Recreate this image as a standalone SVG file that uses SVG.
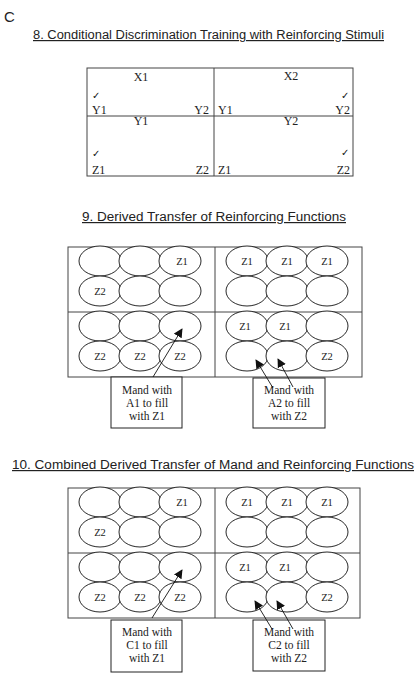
<svg xmlns="http://www.w3.org/2000/svg" width="420" height="673" viewBox="0 0 420 673">
<defs>
<style>
.title{font-family:"Liberation Sans",Arial,sans-serif;font-size:12px;fill:#222;text-decoration:underline}
.lbl{font-family:"Liberation Serif","Times New Roman",serif;font-size:12px;fill:#222}
.chk{font-family:"DejaVu Sans",sans-serif;font-size:10px;fill:#111}
.z{font-family:"Liberation Serif","Times New Roman",serif;font-size:10.5px;fill:#222;text-anchor:middle}
.mand{font-family:"Liberation Serif","Times New Roman",serif;font-size:11.5px;fill:#222;text-anchor:middle}
.grid{fill:none;stroke:#444;stroke-width:1}
.ov{fill:#fff;stroke:#111;stroke-width:0.9}
.box{fill:#fff;stroke:#222;stroke-width:1}
.arr{stroke:#111;stroke-width:0.9;fill:none;marker-end:url(#ah)}
</style>
<marker id="ah" viewBox="0 0 10 10" refX="9" refY="5" markerWidth="9" markerHeight="9" markerUnits="userSpaceOnUse" orient="auto">
<path d="M0,0 L10,5 L0,10 z" fill="#111"/>
</marker>
</defs>
<rect width="420" height="673" fill="#fff"/>
<text x="4" y="22" font-family="Liberation Sans,Arial,sans-serif" font-size="15" fill="#222">C</text>

<!-- Section 8 -->
<text class="title" x="33" y="39" textLength="351" lengthAdjust="spacingAndGlyphs">8. Conditional Discrimination Training with Reinforcing Stimuli</text>
<g id="table8">
<rect class="grid" x="87" y="68" width="266" height="108"/>
<line class="grid" x1="214" y1="68" x2="214" y2="176"/>
<line class="grid" x1="87" y1="116" x2="353" y2="116"/>
</g>
<g id="cell8-x1">
<text class="lbl" x="141" y="81" text-anchor="middle">X1</text>
<text class="chk" x="92" y="99">✓</text>
<text class="lbl" x="92" y="114">Y1</text>
<text class="lbl" x="209" y="114" text-anchor="end">Y2</text>
</g>
<g id="cell8-x2">
<text class="lbl" x="291" y="80" text-anchor="middle">X2</text>
<text class="chk" x="341" y="99">✓</text>
<text class="lbl" x="218" y="114">Y1</text>
<text class="lbl" x="350" y="114" text-anchor="end">Y2</text>
</g>
<g id="cell8-y1">
<text class="lbl" x="141" y="125" text-anchor="middle">Y1</text>
<text class="chk" x="92" y="157">✓</text>
<text class="lbl" x="92" y="174">Z1</text>
<text class="lbl" x="209" y="174" text-anchor="end">Z2</text>
</g>
<g id="cell8-y2">
<text class="lbl" x="291" y="125" text-anchor="middle">Y2</text>
<text class="chk" x="341" y="156">✓</text>
<text class="lbl" x="218" y="174">Z1</text>
<text class="lbl" x="350" y="174" text-anchor="end">Z2</text>
</g>

<!-- Section 9 -->
<text class="title" x="82" y="221" textLength="264" lengthAdjust="spacingAndGlyphs">9. Derived Transfer of Reinforcing Functions</text>
<g id="table9">
<rect class="grid" x="68" y="247" width="294" height="130"/>
<line class="grid" x1="215" y1="247" x2="215" y2="377"/>
<line class="grid" x1="68" y1="312" x2="362" y2="312"/>
</g>
<g id="cell9-tl">
<ellipse class="ov" cx="100" cy="261" rx="21" ry="15"/><ellipse class="ov" cx="140" cy="261" rx="21" ry="15"/><ellipse class="ov" cx="180" cy="261" rx="21" ry="15"/>
<ellipse class="ov" cx="100" cy="291" rx="21" ry="15"/><ellipse class="ov" cx="140" cy="291" rx="21" ry="15"/><ellipse class="ov" cx="180" cy="291" rx="21" ry="15"/>
<text class="z" x="182" y="265">Z1</text><text class="z" x="100" y="295">Z2</text>
</g>
<g id="cell9-tr">
<ellipse class="ov" cx="247" cy="261" rx="21" ry="15"/><ellipse class="ov" cx="287" cy="261" rx="21" ry="15"/><ellipse class="ov" cx="327" cy="261" rx="21" ry="15"/>
<ellipse class="ov" cx="247" cy="291" rx="21" ry="15"/><ellipse class="ov" cx="287" cy="291" rx="21" ry="15"/><ellipse class="ov" cx="327" cy="291" rx="21" ry="15"/>
<text class="z" x="247" y="265">Z1</text><text class="z" x="287" y="265">Z1</text><text class="z" x="327" y="265">Z1</text>
</g>
<g id="cell9-bl">
<ellipse class="ov" cx="100" cy="326" rx="21" ry="15"/><ellipse class="ov" cx="140" cy="326" rx="21" ry="15"/><ellipse class="ov" cx="180" cy="326" rx="21" ry="15"/>
<ellipse class="ov" cx="100" cy="356" rx="21" ry="15"/><ellipse class="ov" cx="140" cy="356" rx="21" ry="15"/><ellipse class="ov" cx="180" cy="356" rx="21" ry="15"/>
<text class="z" x="100" y="360">Z2</text><text class="z" x="140" y="360">Z2</text><text class="z" x="180" y="360">Z2</text>
</g>
<g id="cell9-br">
<ellipse class="ov" cx="247" cy="326" rx="21" ry="15"/><ellipse class="ov" cx="287" cy="326" rx="21" ry="15"/><ellipse class="ov" cx="327" cy="326" rx="21" ry="15"/>
<ellipse class="ov" cx="247" cy="356" rx="21" ry="15"/><ellipse class="ov" cx="287" cy="356" rx="21" ry="15"/><ellipse class="ov" cx="327" cy="356" rx="21" ry="15"/>
<text class="z" x="245" y="330">Z1</text><text class="z" x="285" y="330">Z1</text><text class="z" x="327" y="360">Z2</text>
</g>
<g id="mand9-a1">
<rect class="box" x="111" y="377" width="71" height="51"/>
<text class="mand" x="147" y="394">Mand with</text>
<text class="mand" x="147" y="407">A1 to fill</text>
<text class="mand" x="147" y="420">with Z1</text>
</g>
<g id="mand9-a2">
<rect class="box" x="253" y="378" width="72" height="50"/>
<text class="mand" x="289" y="394">Mand with</text>
<text class="mand" x="289" y="407">A2 to fill</text>
<text class="mand" x="289" y="420">with Z2</text>
</g>

<!-- Section 10 -->
<text class="title" x="12" y="469" textLength="402" lengthAdjust="spacingAndGlyphs">10. Combined Derived Transfer of Mand and Reinforcing Functions</text>
<g id="table10">
<rect class="grid" x="68" y="488" width="292" height="130"/>
<line class="grid" x1="215" y1="488" x2="215" y2="618"/>
<line class="grid" x1="68" y1="553" x2="360" y2="553"/>
</g>
<g id="cell10-tl">
<ellipse class="ov" cx="100" cy="502" rx="21" ry="15"/><ellipse class="ov" cx="140" cy="502" rx="21" ry="15"/><ellipse class="ov" cx="180" cy="502" rx="21" ry="15"/>
<ellipse class="ov" cx="100" cy="532" rx="21" ry="15"/><ellipse class="ov" cx="140" cy="532" rx="21" ry="15"/><ellipse class="ov" cx="180" cy="532" rx="21" ry="15"/>
<text class="z" x="182" y="506">Z1</text><text class="z" x="100" y="536">Z2</text>
</g>
<g id="cell10-tr">
<ellipse class="ov" cx="247" cy="502" rx="21" ry="15"/><ellipse class="ov" cx="287" cy="502" rx="21" ry="15"/><ellipse class="ov" cx="327" cy="502" rx="21" ry="15"/>
<ellipse class="ov" cx="247" cy="532" rx="21" ry="15"/><ellipse class="ov" cx="287" cy="532" rx="21" ry="15"/><ellipse class="ov" cx="327" cy="532" rx="21" ry="15"/>
<text class="z" x="247" y="506">Z1</text><text class="z" x="287" y="506">Z1</text><text class="z" x="327" y="506">Z1</text>
</g>
<g id="cell10-bl">
<ellipse class="ov" cx="100" cy="567" rx="21" ry="15"/><ellipse class="ov" cx="140" cy="567" rx="21" ry="15"/><ellipse class="ov" cx="180" cy="567" rx="21" ry="15"/>
<ellipse class="ov" cx="100" cy="597" rx="21" ry="15"/><ellipse class="ov" cx="140" cy="597" rx="21" ry="15"/><ellipse class="ov" cx="180" cy="597" rx="21" ry="15"/>
<text class="z" x="100" y="601">Z2</text><text class="z" x="140" y="601">Z2</text><text class="z" x="180" y="601">Z2</text>
</g>
<g id="cell10-br">
<ellipse class="ov" cx="247" cy="567" rx="21" ry="15"/><ellipse class="ov" cx="287" cy="567" rx="21" ry="15"/><ellipse class="ov" cx="327" cy="567" rx="21" ry="15"/>
<ellipse class="ov" cx="247" cy="597" rx="21" ry="15"/><ellipse class="ov" cx="287" cy="597" rx="21" ry="15"/><ellipse class="ov" cx="327" cy="597" rx="21" ry="15"/>
<text class="z" x="245" y="571">Z1</text><text class="z" x="285" y="571">Z1</text><text class="z" x="327" y="601">Z2</text>
</g>
<g id="mand10-c1">
<rect class="box" x="111" y="620" width="71" height="52"/>
<text class="mand" x="147" y="636">Mand with</text>
<text class="mand" x="147" y="649">C1 to fill</text>
<text class="mand" x="147" y="662">with Z1</text>
</g>
<g id="mand10-c2">
<rect class="box" x="253" y="620" width="72" height="51"/>
<text class="mand" x="289" y="636">Mand with</text>
<text class="mand" x="289" y="649">C2 to fill</text>
<text class="mand" x="289" y="662">with Z2</text>
</g>

<g id="connectors">
<line class="arr" x1="153" y1="377" x2="182" y2="329"/>
<line class="arr" x1="273" y1="388" x2="256" y2="360"/>
<line class="arr" x1="293" y1="387" x2="278" y2="359"/>
<line class="arr" x1="152" y1="618" x2="182" y2="570"/>
<line class="arr" x1="272" y1="629" x2="255" y2="601"/>
<line class="arr" x1="293" y1="629" x2="277" y2="601"/>
</g>
</svg>
